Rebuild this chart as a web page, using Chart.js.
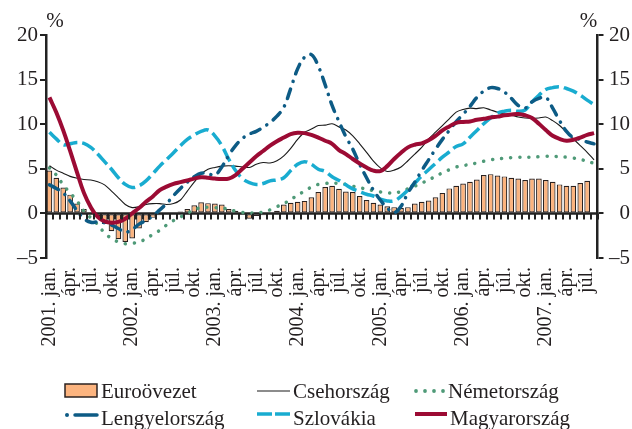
<!DOCTYPE html>
<html lang="hu">
<head>
<meta charset="utf-8">
<script src="https://cdn.jsdelivr.net/npm/chart.js@4"></script>
<style>
  body { margin: 0; background: #fff; }
  #wrap { position: relative; width: 632px; height: 429px; overflow: hidden;
          font-family: "Liberation Serif", serif; color: #231f20; }
  #box { position: absolute; left: 0; top: 0; width: 632px; height: 429px; }
  .item { position: absolute; font-size: 21px; line-height: 22px; white-space: nowrap; }
  #keys { position: absolute; left: 0; top: 370px; }
</style>
</head>
<body>
<div id="wrap">
  <div id="box"><canvas id="chart"></canvas></div>
  <svg id="keys" width="632" height="59">
    <rect x="65" y="14" width="32" height="13" fill="#fcb47f" stroke="#2b2220" stroke-width="1.5"/>
    <line x1="257" y1="21" x2="290" y2="21" stroke="#1a1a1a" stroke-width="1.2"/>
    <g fill="#4f9a78"><circle cx="416" cy="21" r="1.9"/><circle cx="425" cy="21" r="1.9"/><circle cx="434" cy="21" r="1.9"/><circle cx="443" cy="21" r="1.9"/></g>
    <circle cx="67" cy="45" r="2" fill="#0d5b85"/>
    <line x1="75" y1="45" x2="97" y2="45" stroke="#0d5b85" stroke-width="3.5" stroke-linecap="round"/>
    <line x1="257" y1="44" x2="272" y2="44" stroke="#19acd0" stroke-width="3.5"/>
    <line x1="275" y1="44" x2="290" y2="44" stroke="#19acd0" stroke-width="3.5"/>
    <line x1="415" y1="44" x2="447" y2="44" stroke="#9c0b34" stroke-width="4"/>
  </svg>
  <div class="item" style="left:101px;top:380px">Euroövezet</div>
  <div class="item" style="left:293px;top:380px">Csehország</div>
  <div class="item" style="left:448px;top:380px">Németország</div>
  <div class="item" style="left:101px;top:407px">Lengyelország</div>
  <div class="item" style="left:293px;top:407px">Szlovákia</div>
  <div class="item" style="left:450px;top:407px">Magyarország</div>
</div>
<script>
// Months: 2001 jan .. 2007 aug
const years = [2001, 2002, 2003, 2004, 2005, 2006, 2007];
const monthNames = ['jan.', '', '', 'ápr.', '', '', 'júl.', '', '', 'okt.', '', ''];
const monthCount = 80;

const euroovezet = [4.8, 4.0, 2.9, 2.1, 1.1, 0.5, 0.1, -0.3, -1.2, -2.0,
  -2.9, -3.2, -2.8, -1.7, -1.0, -0.5, -0.2, -0.1, 0.0, 0.2,
  0.5, 0.9, 1.25, 1.15, 1.1, 1.0, 0.5, 0.3, -0.1, -0.6,
  -0.3, -0.2, -0.1, 0.3, 1.0, 1.2, 1.3, 1.4, 1.8, 2.4,
  2.95, 3.1, 2.75, 2.45, 2.4, 1.95, 1.5, 1.2, 1.0, 0.8,
  0.7, 0.6, 0.7, 1.1, 1.3, 1.45, 1.8, 2.3, 2.8, 3.1,
  3.35, 3.55, 3.8, 4.3, 4.4, 4.25, 4.15, 4.0, 3.9, 3.75,
  3.9, 3.9, 3.75, 3.55, 3.25, 3.1, 3.1, 3.4, 3.65, null];

const csehorszag = [5.35, 4.85, 4.5, 4.15, 3.95, 3.8, 3.75, 3.55, 3.2, 2.5,
  1.75, 1.0, 0.65, 0.75, 1.0, 1.1, 1.1, 1.0, 1.1, 1.5,
  2.5, 3.5, 4.4, 4.95, 5.15, 5.3, 5.35, 5.3, 5.2, 5.15,
  5.5, 5.7, 5.65, 5.9, 6.45, 7.3, 8.3, 9.1, 9.45, 9.85,
  9.9, 10.05, 9.7, 9.35, 8.7, 7.8, 6.85, 5.85, 5.1, 4.7,
  4.85, 5.2, 5.9, 6.65, 7.4, 8.35, 9.1, 9.85, 10.6, 11.35,
  11.65, 11.8, 11.75, 11.85, 11.6, 11.35, 11.15, 11.0, 10.8, 10.7,
  10.65, 10.7, 10.8, 10.4, 9.85, 9.1, 8.35, 7.6, 6.85, 6.0];

const nemetorszag = [5.1, 4.3, 3.2, 2.3, 1.4, 0.25, -0.5, -1.25, -2.2, -2.8,
  -3.2, -3.4, -3.35, -3.2, -2.85, -2.35, -1.9, -1.3, -0.8, -0.4,
  0.0, 0.4, 0.65, 0.7, 0.65, 0.6, 0.45, 0.25, 0.1, 0.05,
  0.05, 0.15, 0.4, 0.75, 1.1, 1.55, 2.05, 2.5, 2.95, 3.25,
  3.35, 3.4, 3.35, 3.25, 3.05, 2.9, 2.7, 2.55, 2.4, 2.3,
  2.3, 2.45, 2.75, 3.05, 3.4, 3.75, 4.15, 4.55, 4.9, 5.2,
  5.35, 5.5, 5.65, 5.85, 6.0, 6.1, 6.2, 6.25, 6.3, 6.3,
  6.3, 6.35, 6.4, 6.4, 6.35, 6.3, 6.2, 6.05, 5.85, 5.6];

const lengyelorszag = [3.2, 2.8, 2.3, 1.4, 0.3, -0.6, -1.0, -0.95, -1.05, -1.3,
  -1.7, -2.1, -1.8, -1.2, -0.8, -0.3, 0.4, 1.1, 2.0, 2.8,
  3.5, 4.1, 4.5, 4.45, 4.3, 5.2, 6.5, 7.6, 8.4, 8.9,
  9.2, 9.65, 10.2, 10.9, 11.9, 14.0, 16.2, 17.5, 17.8, 16.5,
  14.4, 12.1, 10.3, 8.6, 7.2, 5.5, 4.0, 2.6, 1.5, 0.6,
  0.1, 0.8, 2.3, 3.5, 4.8, 6.0, 7.2, 8.3, 9.3, 10.3,
  11.1, 12.0, 13.0, 13.7, 14.1, 14.0, 13.6, 12.9, 12.1, 11.8,
  12.5, 12.9, 13.0, 11.8, 10.4, 9.2, 8.5, 8.3, 8.0, 7.8];

const szlovakia = [9.1, 8.35, 7.7, 7.8, 7.95, 7.85, 7.4, 6.65, 5.8, 4.95,
  4.0, 3.25, 2.9, 3.1, 3.65, 4.45, 5.3, 6.05, 6.8, 7.6,
  8.3, 8.8, 9.2, 9.35, 8.7, 7.6, 6.1, 4.8, 3.9, 3.45,
  3.25, 3.35, 3.65, 3.75, 4.0, 4.8, 5.5, 5.8, 5.5, 4.95,
  4.7, 4.1, 3.7, 3.2, 2.75, 2.45, 2.15, 1.95, 1.6, 1.4,
  1.4, 1.9, 2.6, 3.4, 4.2, 4.9, 5.6, 6.3, 6.9, 7.5,
  7.8, 8.55, 9.3, 10.05, 10.7, 11.25, 11.45, 11.55, 11.45, 11.6,
  12.5, 13.25, 13.9, 14.1, 14.2, 14.0, 13.7, 13.25, 12.7, 12.2];

const magyarorszag = [13.0, 11.3, 9.3, 7.0, 4.6, 2.3, 0.7, -0.4, -0.9, -1.05,
  -0.95, -0.6, 0.0, 0.6, 1.3, 1.9, 2.6, 3.0, 3.3, 3.5,
  3.7, 3.9, 4.05, 4.0, 3.9, 3.85, 3.9, 4.3, 5.0, 5.7,
  6.4, 7.0, 7.6, 8.1, 8.5, 8.9, 9.05, 9.0, 8.8, 8.5,
  8.15, 7.8, 7.1, 6.65, 6.1, 5.6, 5.15, 4.8, 4.75, 5.3,
  6.1, 6.8, 7.4, 7.7, 7.85, 8.2, 8.7, 9.3, 9.75, 10.15,
  10.25, 10.3, 10.5, 10.6, 10.75, 10.85, 11.0, 11.1, 11.15, 11.0,
  10.7, 10.05, 9.35, 8.7, 8.35, 8.15, 8.25, 8.5, 8.8, 9.0];

const yTicks = [-5, 0, 5, 10, 15, 20];

// category labels: "2001. jan.", "ápr.", "júl.", "okt.", ...
const labels = [];
for (let i = 0; i < monthCount; i++) {
  const m = i % 12;
  const name = monthNames[m];
  if (m === 0) labels.push(years[i / 12] + '. ' + name);
  else labels.push(name);
}

const ink = '#231f20';
const serif = '"Liberation Serif", "Times New Roman", serif';

function fmtTick(v) {
  return v < 0 ? '\u2013' + Math.abs(v) : String(v);
}

// "%" above both y axes
const percentLabels = {
  id: 'percentLabels',
  afterDraw(c) {
    const { ctx, chartArea } = c;
    ctx.save();
    ctx.font = '21px ' + serif;
    ctx.fillStyle = ink;
    ctx.textAlign = 'center';
    ctx.textBaseline = 'middle';
    ctx.fillText('%', chartArea.left + 9, 21);
    ctx.fillText('%', chartArea.right - 9, 21);
    ctx.restore();
  }
};

// zero line under the data, month ticks hanging below it drawn over the bars
const zeroComb = {
  id: 'zeroComb',
  beforeDatasetsDraw(c) {
    const { ctx, chartArea } = c;
    const y0 = c.scales.y.getPixelForValue(0);
    ctx.save();
    ctx.strokeStyle = '#222';
    ctx.lineWidth = 2.5;
    ctx.beginPath();
    ctx.moveTo(chartArea.left, y0);
    ctx.lineTo(chartArea.right, y0);
    ctx.stroke();
    ctx.restore();
  },
  afterDatasetsDraw(c) {
    const { ctx } = c;
    const xs = c.scales.x;
    const y0 = c.scales.y.getPixelForValue(0);
    const n = labels.length;
    const step = (xs.right - xs.left) / n;
    ctx.save();
    ctx.strokeStyle = '#222';
    ctx.lineWidth = 2;
    ctx.beginPath();
    for (let i = 0; i <= n; i++) {
      const px = Math.round(xs.left + i * step);
      ctx.moveTo(px, y0);
      ctx.lineTo(px, y0 + 6);
    }
    ctx.stroke();
    ctx.restore();
  }
};

const lineBase = { type: 'line', pointRadius: 0, tension: 0.4, fill: false };

const ctx = document.getElementById('chart').getContext('2d');
const chart = new Chart(ctx, {
  type: 'bar',
  data: {
    labels,
    datasets: [
      { ...lineBase, label: 'Magyarország', data: magyarorszag,
        borderColor: '#9c0b34', borderWidth: 4, order: 1 },
      { ...lineBase, label: 'Lengyelország', data: lengyelorszag,
        borderColor: '#0d5b85', borderWidth: 3.5, borderDash: [10, 8, 0.1, 8],
        borderCapStyle: 'round', order: 2 },
      { ...lineBase, label: 'Szlovákia', data: szlovakia,
        borderColor: '#19acd0', borderWidth: 3.5, borderDash: [14, 5], order: 3 },
      { ...lineBase, label: 'Csehország', data: csehorszag, tension: 0.3,
        borderColor: '#1a1a1a', borderWidth: 1.1, order: 4 },
      { ...lineBase, label: 'Németország', data: nemetorszag,
        borderColor: '#4f9a78', borderWidth: 3.5, borderDash: [0.1, 9],
        borderCapStyle: 'round', order: 5 },
      { type: 'bar', label: 'Euroövezet', data: euroovezet,
        backgroundColor: '#fcb47f', borderColor: '#2b2220', borderWidth: 1.2,
        borderSkipped: false, categoryPercentage: 1, barPercentage: 0.82, order: 10 }
    ]
  },
  options: {
    responsive: true,
    maintainAspectRatio: false,
    animation: false,
    layout: { padding: { top: 35, right: 2, bottom: 0, left: 0 } },
    plugins: { legend: { display: false }, tooltip: { enabled: false } },
    scales: {
      x: {
        type: 'category',
        offset: true,
        grid: { display: false, drawTicks: false, offset: true },
        border: { display: false },
        ticks: {
          autoSkip: false, maxRotation: 90, minRotation: 90, padding: 9,
          color: ink, font: { family: serif, size: 20 }
        },
        afterFit: s => { s.height = 171; }
      },
      y: {
        position: 'left',
        min: -5, max: 20,
        afterBuildTicks: s => { s.ticks = yTicks.map(v => ({ value: v })); },
        grid: { drawOnChartArea: false, drawTicks: true, tickLength: 6, color: '#222', lineWidth: 2 },
        border: { display: true, color: '#222', width: 2.5 },
        ticks: { padding: 2, color: ink, font: { family: serif, size: 21 }, callback: fmtTick },
        afterFit: s => { s.width = 46; }
      },
      y2: {
        position: 'right',
        min: -5, max: 20,
        afterBuildTicks: s => { s.ticks = yTicks.map(v => ({ value: v })); },
        grid: { drawOnChartArea: false, drawTicks: true, tickLength: 6, color: '#222', lineWidth: 2 },
        border: { display: true, color: '#222', width: 2.5 },
        ticks: { padding: 2, crossAlign: 'far', color: ink, font: { family: serif, size: 21 }, callback: fmtTick },
        afterFit: s => { s.width = 32.5; }
      }
    }
  },
  plugins: [zeroComb, percentLabels]
});
</script>
</body>
</html>
